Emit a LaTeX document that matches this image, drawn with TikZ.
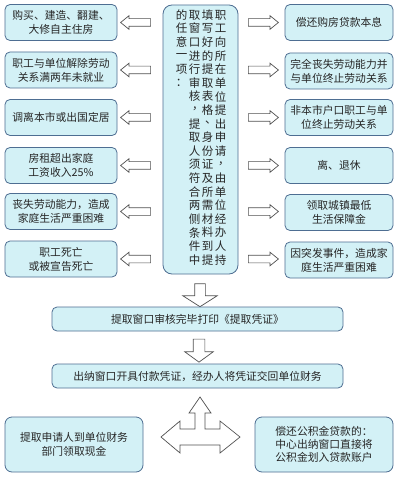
\documentclass[tikz,border=0pt]{standalone}
\usepackage{fontspec}
\setmainfont{Noto Sans CJK SC}
\usetikzlibrary{shapes.arrows}
\definecolor{boxfill}{HTML}{D3F1F6}
\definecolor{boxline}{HTML}{4E6E92}
\definecolor{txt}{HTML}{262626}
\definecolor{arr}{HTML}{505050}
\newcommand\vcomma{\makebox[1em][l]{\kern0.3em\raisebox{0.3em}[0.5em][0pt]{，}}}
\newcommand\vdun{\makebox[1em][l]{\kern0.3em\raisebox{0.3em}[0.5em][0pt]{、}}}
\tikzset{
  box/.style={draw=boxline, fill=boxfill, line width=0.8pt, rounded corners=5pt,
    align=center, text=txt, font=\fontsize{10.8}{14}\selectfont, inner sep=1pt},
  leftbox/.style={box, minimum width=112pt, minimum height=36pt},
  rightbox/.style={box, minimum width=108pt, minimum height=36pt},
  widebox/.style={box, minimum width=291pt, minimum height=24pt},
  bottombox/.style={box, minimum width=138pt, minimum height=55pt, rounded corners=7pt, font=\fontsize{10.8}{13.3}\selectfont},
  vch/.style={inner sep=0pt, text=txt, font=\fontsize{11.5}{12}\selectfont},
  hollow/.style={single arrow, draw=arr, fill=white, line width=0.7pt},
  sidearrow/.style={hollow, minimum height=30pt, inner sep=3.5pt,
    single arrow head extend=3pt, single arrow tip angle=78, minimum width=13pt},
  downarrow/.style={hollow, shape border rotate=270, minimum height=23pt,
    single arrow tip angle=115}
}
\begin{document}
\begin{tikzpicture}[x=1pt, y=-1pt]
\useasboundingbox (0,0) rectangle (400,478);
\fill[white] (0,0) rectangle (400,478);

% centre box
\node[draw=boxline, fill=boxfill, line width=0.8pt, rounded corners=9pt,
      minimum width=75pt, minimum height=269pt] (centre) at (200.5,139.5) {};
\foreach \ch [count=\i from 0] in {职,工,向,所,在,单,位,提,出,申,请,\vcomma,由,单,位,经,办,人,持}
  \node[vch] (va\i) at (220.5,{15+13.6*\i}) {\ch};
\foreach \ch [count=\i from 0] in {填,写,好,的,提,取,表,格,\vdun,身,份,证,及,所,需,材,料,到,提}
  \node[vch] (vb\i) at (207.5,{15+13.6*\i}) {\ch};
\foreach \ch [count=\i from 0] in {取,窗,口,进,行,审,核,\vcomma,提,取,人,须,符,合,两,侧,条,件,中}
  \node[vch] (vc\i) at (194.5,{15+13.6*\i}) {\ch};
\foreach \ch [count=\i from 0] in {的,任,意,一,项,：}
  \node[vch] (vd\i) at (181.5,{15+13.6*\i}) {\ch};

% left boxes
\node[leftbox] (l1) at (61,22.5)  {购买、建造、翻建、\\大修自主住房};
\node[leftbox] (l2) at (61,70)    {职工与单位解除劳动\\关系满两年未就业};
\node[leftbox] (l3) at (61,117.5) {调离本市或出国定居};
\node[leftbox] (l4) at (61,165.5) {房租超出家庭\\工资收入25\%};
\node[leftbox] (l5) at (61,211.5) {丧失劳动能力，造成\\家庭生活严重困难};
\node[leftbox] (l6) at (61,259)   {职工死亡\\或被宣告死亡};

% right boxes
\node[rightbox] (r1) at (339,22.5)  {偿还购房贷款本息};
\node[rightbox] (r2) at (339,71)    {完全丧失劳动能力并\\与单位终止劳动关系};
\node[rightbox] (r3) at (339,117.5) {非本市户口职工与单\\位终止劳动关系};
\node[rightbox] (r4) at (339,165.5) {离、退休};
\node[rightbox] (r5) at (339,212.5) {领取城镇最低\\生活保障金};
\node[rightbox] (r6) at (339,260)   {因突发事件，造成家\\庭生活严重困难};

% side arrows
\foreach \y [count=\i] in {22.5,70,117.5,165.5,211.5,259} {
  \node[sidearrow, shape border rotate=180] (la\i) at (138,\y) {};
  \node[sidearrow] (ra\i) at (261,\y) {};
}

% down arrows and process boxes
\node[downarrow, inner sep=5pt, single arrow head extend=12pt, minimum width=34pt] (d1) at (200,293.5) {};
\node[widebox] (s1) at (197.5,319) {提取窗口审核完毕打印《提取凭证》};
\node[downarrow, inner sep=5.5pt, single arrow head extend=8.5pt, minimum width=28pt, single arrow tip angle=108] (d2) at (199,348.5) {};
\node[widebox] (s2) at (197.5,376) {出纳窗口开具付款凭证，经办人将凭证交回单位财务};

% three-way arrow
\draw[draw=arr, fill=white, line width=0.7pt, line join=miter]
  (200,397) -- (211,413) -- (205,413) -- (205,429) -- (220,429) -- (220,421)
  -- (240,437) -- (220,453) -- (220,445) -- (180,445) -- (180,453) -- (161,437)
  -- (180,421) -- (180,429) -- (195,429) -- (195,413) -- (189,413) -- cycle;

% bottom boxes
\node[bottombox] (b1) at (74,444.5) {提取申请人到单位财务\\部门领取现金};
\node[bottombox] (b2) at (324,444.5) {偿还公积金贷款的：\\中心出纳窗口直接将\\公积金划入贷款账户};
\end{tikzpicture}
\end{document}
